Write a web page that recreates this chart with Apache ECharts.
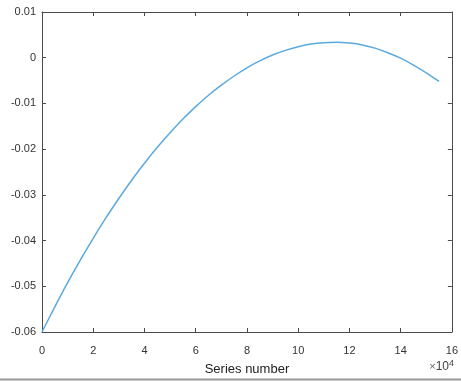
<!DOCTYPE html>
<html>
<head>
<meta charset="utf-8">
<script src="https://cdn.jsdelivr.net/npm/echarts@6/dist/echarts.min.js"></script>
<style>
html, body { margin: 0; padding: 0; background: #fff; }
#chart { width: 461px; height: 381px; }
</style>
</head>
<body>
<div id="chart"></div>
<script>
// 序号（原始值）与对应数值，读自参考图
var seriesNo = [0, 5000, 10000, 15000, 20000, 25000, 30000, 35000, 40000, 45000,
	50000, 55000, 60000, 65000, 70000, 75000, 80000, 85000, 90000, 95000,
	100000, 105000, 110000, 115000, 120000, 125000, 130000, 135000, 140000, 145000,
	150000, 155000];
var values = [-0.0600, -0.0545, -0.0492, -0.0442, -0.0395, -0.0350, -0.0308, -0.0268, -0.0231, -0.0196,
	-0.0164, -0.0134, -0.0107, -0.0082, -0.0060, -0.0040, -0.0022, -0.0007, 0.0006, 0.0016,
	0.0024, 0.0030, 0.0033, 0.0034, 0.0032, 0.0028, 0.0021, 0.0011, -0.0001, -0.0016,
	-0.0033, -0.0052];
var xTicks = [0, 2, 4, 6, 8, 10, 12, 14, 16];      // ×10^4
var yTicks = [-0.06, -0.05, -0.04, -0.03, -0.02, -0.01, 0, 0.01];

var chart = echarts.init(document.getElementById('chart'));

var points = seriesNo.map(function (x, i) { return [x, values[i]]; });
var axisCol = '#4a4a4a';
var labelCol = '#333';
var font = '"Liberation Sans", Arial, sans-serif';

function boxAxis(extra) {
	var a = {
		axisLine: { show: true, onZero: false, lineStyle: { color: axisCol, width: 1 } },
		axisTick: { show: true, inside: true, length: 4, lineStyle: { color: axisCol } },
		splitLine: { show: false }
	};
	for (var k in extra) a[k] = extra[k];
	return a;
}

var option = {
	animation: false,
	grid: { left: 42, right: 8, top: 12, bottom: 47 },
	xAxis: [
		boxAxis({
			type: 'value', min: 0, max: 160000, interval: 20000,
			name: 'Series number', nameLocation: 'middle', nameGap: 31,
			nameTextStyle: { fontSize: 13, color: '#222', fontFamily: font },
			axisLabel: {
				color: labelCol, fontSize: 11, fontFamily: font, margin: 13,
				formatter: function (v) { return String(v / 10000); }
			}
		}),
		boxAxis({
			type: 'value', min: 0, max: 160000, interval: 20000, position: 'top',
			axisLabel: { show: false }
		})
	],
	yAxis: [
		boxAxis({
			type: 'value', min: -0.06, max: 0.01, interval: 0.01,
			axisLabel: {
				color: labelCol, fontSize: 11, fontFamily: font, margin: 6,
				formatter: function (v) { return String(Math.round(v * 100) / 100); }
			}
		}),
		boxAxis({
			type: 'value', min: -0.06, max: 0.01, interval: 0.01, position: 'right',
			axisLabel: { show: false }
		})
	],
	series: [{
		type: 'line',
		data: points,
		smooth: 0.3,
		showSymbol: false,
		lineStyle: { color: '#5aaae0', width: 1.5 }
	}],
	graphic: [
		{
			type: 'text', right: 7, top: 359,
			style: {
				text: '{a|\u00d7}{b|10}{c|4}',
				rich: {
					a: { fontSize: 11, fill: '#666', fontFamily: font },
					b: { fontSize: 12, fill: '#444', fontFamily: font },
					c: { fontSize: 9, fill: '#444', fontFamily: font, verticalAlign: 'top', padding: [0, 0, 7, 0] }
				}
			}
		},
		{
			type: 'line',
			shape: { x1: 0, y1: 379.5, x2: 461, y2: 379.5 },
			style: { stroke: '#999', lineWidth: 2 }
		}
	]
};
chart.setOption(option);
</script>
</body>
</html>
